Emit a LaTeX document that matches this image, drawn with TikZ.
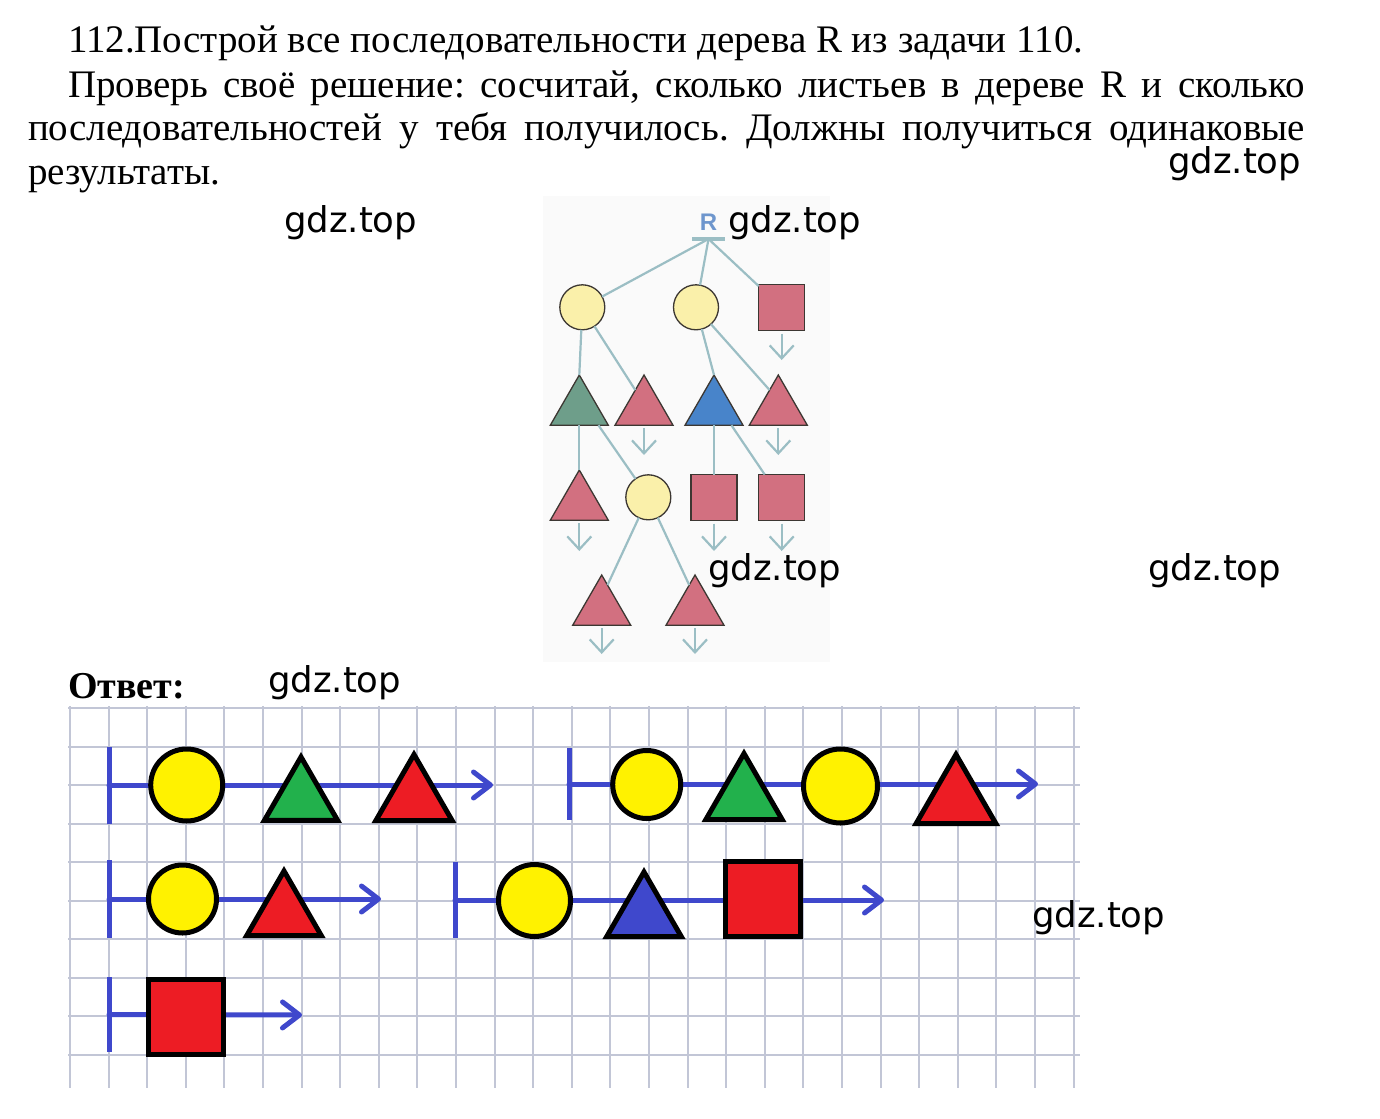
\documentclass[tikz,border=0pt]{standalone}
\usepackage{fontspec}
\setmainfont{Liberation Serif}
\newfontfamily\wmfont{DejaVu Sans}
\newfontfamily\rfont{Liberation Sans}
\usetikzlibrary{shapes.geometric,arrows.meta,calc}
\pgfdeclarelayer{gridlayer}
\pgfdeclarelayer{bglayer}
\pgfsetlayers{gridlayer,bglayer,main}
\frenchspacing
\definecolor{pyellow}{RGB}{255,242,0}
\definecolor{pgreen}{RGB}{34,177,76}
\definecolor{pred}{RGB}{237,28,36}
\definecolor{pblue}{RGB}{63,72,204}
\definecolor{gridc}{RGB}{194,198,214}
\definecolor{tlinec}{RGB}{155,190,196}
\definecolor{tyellow}{RGB}{250,240,170}
\definecolor{tpink}{RGB}{210,112,128}
\definecolor{tgreen}{RGB}{110,158,138}
\definecolor{tblue}{RGB}{72,132,202}
\definecolor{tout}{RGB}{60,55,50}
\definecolor{rblue}{RGB}{110,150,205}
\definecolor{tbg}{RGB}{250,250,250}
\begin{document}
\begin{tikzpicture}[x=1pt,y=-1pt,
  txt/.style={inner sep=0pt,outer sep=0pt,anchor=base west,font=\fontsize{39}{44}\selectfont},
  wm/.style={inner sep=0pt,outer sep=0pt,anchor=base west,font=\wmfont\fontsize{35.5}{36}\selectfont},
  tcirc/.style={circle,draw=tout,line width=1.3pt,fill=tyellow,minimum size=45pt,inner sep=0pt,outer sep=0pt},
  ttri/.style={regular polygon,regular polygon sides=3,draw=tout,line width=1.3pt,minimum size=67pt,inner sep=0pt,outer sep=0pt,fill=#1},
  tsq/.style={rectangle,draw=tout,line width=1.3pt,fill=tpink,minimum size=46pt,inner sep=0pt,outer sep=0pt},
  tline/.style={draw=tlinec,line width=2.2pt},
  tarrow/.style={tline,-{Straight Barb[length=13pt,width=24pt]},shorten <=3pt},
  acirc/.style={circle,draw=black,line width=5pt,fill=pyellow,minimum size=#1,inner sep=0pt,outer sep=0pt},
  atri/.style 2 args={regular polygon,regular polygon sides=3,draw=black,line width=5pt,fill=#1,minimum size=#2,inner sep=0pt,outer sep=0pt},
  asq/.style={rectangle,draw=black,line width=5pt,fill=pred,minimum size=75pt,inner sep=0pt,outer sep=0pt},
  abar/.style={rectangle,fill=pblue,minimum width=5pt,minimum height=#1,inner sep=0pt,outer sep=0pt},
  aline/.style={draw=pblue,line width=5pt,line cap=round,-{Straight Barb[length=17pt,width=26pt,round]}},
]
\useasboundingbox (0,0) rectangle (1380,1118);

% ---------- text ----------
\node[txt] (l1) at (68,52.7) {112.Построй все последовательности дерева R из задачи 110.};
\node[txt] (l2) at (68,97.3) {\makebox[1237pt][s]{Проверь своё решение: сосчитай, сколько листьев в дереве R и сколько}};
\node[txt] (l3) at (28,141) {\makebox[1277pt][s]{последовательностей у тебя получилось. Должны получиться одинаковые}};
\node[txt] (l4) at (28,185) {результаты.};
\node[txt,font=\bfseries\fontsize{38}{40}\selectfont] (ans) at (68,698) {Ответ:};

% ---------- grid ----------
\begin{pgfonlayer}{gridlayer}
\fill[white] (0,0) rectangle (1380,1118);
\fill[tbg] (543,196) rectangle (830,662);
\foreach \i in {0,...,26} \draw[gridc,line width=2pt] ({70+38.6*\i},706) -- ({70+38.6*\i},1088);
\foreach \j in {0,...,9} \draw[gridc,line width=2pt] (68,{708+38.5*\j}) -- (1080,{708+38.5*\j});
\end{pgfonlayer}

% ---------- tree ----------
\node[font=\rfont\bfseries\fontsize{24}{24}\selectfont,text=rblue,inner sep=0pt] (R) at (708.5,222) {R};
\node[rectangle,fill=tlinec,minimum width=33pt,minimum height=3.5pt,inner sep=0pt] (Rbar) at (708.5,239) {};
\node[tcirc] (C1) at (582.3,307.3) {};
\node[tcirc] (C2) at (696,307.3) {};
\node[tsq] (S1) at (781.7,307.7) {};
\node[ttri=tgreen] (T1) at (579.3,408.5) {};
\node[ttri=tpink] (T2) at (644,408.5) {};
\node[ttri=tblue] (T3) at (714,408.5) {};
\node[ttri=tpink] (T4) at (778.3,408.5) {};
\node[ttri=tpink] (T5) at (579.3,503.5) {};
\node[tcirc] (C3) at (648.3,497.3) {};
\node[tsq] (S2) at (714,497.5) {};
\node[tsq] (S3) at (781.7,497.5) {};
\node[ttri=tpink] (T6) at (601.7,608.5) {};
\node[ttri=tpink] (T7) at (695,608.5) {};

\draw[tline] (Rbar.center) -- (C1);
\draw[tline] (Rbar.center) -- (C2);
\draw[tline] (Rbar.center) -- (S1);
\draw[tline] (C1) -- (T1.corner 1);
\draw[tline] (C1) -- ($(T2.corner 1)!0.3!(T2.corner 2)$);
\draw[tline] (C2) -- (T3.corner 1);
\draw[tline] (C2) -- ($(T4.corner 1)!0.3!(T4.corner 2)$);
\draw[tline] (T1.south) -- (T5.corner 1);
\draw[tline] ($(T1.corner 2)!0.83!(T1.corner 3)$) -- (C3);
\draw[tline] (T3.south) -- (S2.north);
\draw[tline] ($(T3.corner 2)!0.8!(T3.corner 3)$) -- ($(S3.north west)!0.13!(S3.north east)$);
\draw[tline] (C3) -- ($(T6.corner 1)!0.2!(T6.corner 3)$);
\draw[tline] (C3) -- ($(T7.corner 1)!0.2!(T7.corner 2)$);

\coordinate (e1) at (781.7,360);
\coordinate (e2) at (644,455);
\coordinate (e3) at (778.3,455);
\coordinate (e4) at (579.3,551);
\coordinate (e5) at (714,551);
\coordinate (e6) at (781.7,551);
\coordinate (e7) at (601.7,654);
\coordinate (e8) at (695,654);
\draw[tarrow] (S1) -- (e1);
\draw[tarrow] (T2) -- (e2);
\draw[tarrow] (T4) -- (e3);
\draw[tarrow] (T5) -- (e4);
\draw[tarrow] (S2) -- (e5);
\draw[tarrow] (S3) -- (e6);
\draw[tarrow] (T6) -- (e7);
\draw[tarrow] (T7) -- (e8);

% ---------- answer ----------
% row A
\node[abar=77pt] (barA) at (109,785) {};
\node[acirc=72pt] (A1) at (186.7,785) {};
\node[atri={pgreen}{84.6pt}] (A2) at (301,799.3) {};
\node[atri={pred}{88pt}] (A3) at (414,798.5) {};
\coordinate (tipA) at (493,785);
% row B
\node[abar=72pt] (barB) at (569,784) {};
\node[acirc=68pt] (B1) at (646.7,784.5) {};
\node[atri={pgreen}{88pt}] (B2) at (744,797.5) {};
\node[acirc=74pt] (B3) at (840.5,786) {};
\node[atri={pred}{92pt}] (B4) at (956,800.5) {};
\coordinate (tipB) at (1038,784);
% row C
\node[abar=78pt] (barC) at (109,899) {};
\node[acirc=68pt] (C1a) at (182.5,899) {};
\node[atri={pred}{86pt}] (C2a) at (284,914) {};
\coordinate (tipC) at (381,899);
% row D
\node[abar=76pt] (barD) at (455,900) {};
\node[acirc=72pt] (D1) at (534.5,900.5) {};
\node[atri={pblue}{86pt}] (D2) at (644,915) {};
\node[asq] (D3) at (763,898.5) {};
\coordinate (tipD) at (884,900);
% row E
\node[abar=75pt] (barE) at (109,1014.5) {};
\node[asq] (E1) at (185.5,1017) {};
\coordinate (tipE) at (302,1015);

\begin{pgfonlayer}{bglayer}
\draw[aline] (barA.center) -- (tipA);
\draw[aline] (barB.center) -- (tipB);
\draw[aline] (barC.center) -- (tipC);
\draw[aline] (barD.center) -- (tipD);
\draw[aline] (barE.center) -- (tipE);
\end{pgfonlayer}

% ---------- watermarks ----------
\node[wm] (w1) at (1168,174) {gdz.top};
\node[wm] (w2) at (284,232) {gdz.top};
\node[wm] (w3) at (728,232) {gdz.top};
\node[wm] (w4) at (708,580) {gdz.top};
\node[wm] (w5) at (1148,580) {gdz.top};
\node[wm] (w6) at (268,692) {gdz.top};
\node[wm] (w7) at (1032,927) {gdz.top};
\end{tikzpicture}
\end{document}
